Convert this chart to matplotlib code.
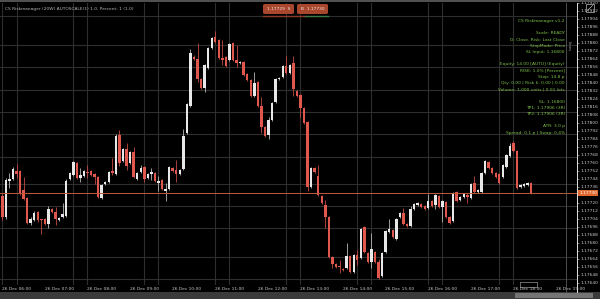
import numpy as np
import pandas as pd
import matplotlib.pyplot as plt
from matplotlib.patches import Rectangle, FancyBboxPatch
from matplotlib.lines import Line2D
import matplotlib.transforms as mtransforms

# EURUSD 5 minutos, 26 Dec 05:40 -> 18:05
opens = [1.17727, 1.17706, 1.17742, 1.17744, 1.17752, 1.17752, 1.17733, 1.17725, 1.17700, 1.17703,
         1.17711, 1.17704, 1.17704, 1.17699, 1.17714, 1.17711, 1.17703, 1.17706, 1.17707, 1.17744,
         1.17748, 1.17760, 1.17745, 1.17747, 1.17751, 1.17752, 1.17749, 1.17746, 1.17725, 1.17739,
         1.17741, 1.17752, 1.17749, 1.17788, 1.17762, 1.17774, 1.17760, 1.17771, 1.17744, 1.17751,
         1.17756, 1.17745, 1.17749, 1.17750, 1.17740, 1.17743, 1.17732, 1.17734, 1.17755, 1.17753,
         1.17749, 1.17754, 1.17790, 1.17817, 1.17866, 1.17864, 1.17844, 1.17835, 1.17855, 1.17875,
         1.17886, 1.17883, 1.17865, 1.17866, 1.17863, 1.17880, 1.17863, 1.17860, 1.17861, 1.17849,
         1.17843, 1.17827, 1.17841, 1.17817, 1.17796, 1.17788, 1.17803, 1.17821, 1.17844, 1.17846,
         1.17857, 1.17850, 1.17860, 1.17832, 1.17828, 1.17815, 1.17801, 1.17736, 1.17755, 1.17747,
         1.17727, 1.17718, 1.17706, 1.17666, 1.17659, 1.17657, 1.17654, 1.17655, 1.17667, 1.17651,
         1.17668, 1.17665, 1.17696, 1.17670, 1.17661, 1.17671, 1.17661, 1.17647, 1.17671, 1.17691,
         1.17693, 1.17684, 1.17706, 1.17710, 1.17699, 1.17697, 1.17714, 1.17718, 1.17719, 1.17717,
         1.17715, 1.17722, 1.17718, 1.17727, 1.17716, 1.17721, 1.17706, 1.17702, 1.17731, 1.17723,
         1.17726, 1.17728, 1.17725, 1.17740, 1.17731, 1.17731, 1.17750, 1.17761, 1.17755, 1.17750,
         1.17749, 1.17746, 1.17756, 1.17767, 1.17780, 1.17772, 1.17736, 1.17737, 1.17738, 1.17740]
highs = [1.17729, 1.17745, 1.17750, 1.17756, 1.17759, 1.17753, 1.17746, 1.17726, 1.17706, 1.17712,
         1.17712, 1.17704, 1.17705, 1.17717, 1.17715, 1.17716, 1.17706, 1.17720, 1.17744, 1.17751,
         1.17762, 1.17761, 1.17755, 1.17753, 1.17758, 1.17753, 1.17750, 1.17747, 1.17739, 1.17742,
         1.17752, 1.17765, 1.17789, 1.17793, 1.17775, 1.17780, 1.17772, 1.17776, 1.17751, 1.17758,
         1.17757, 1.17750, 1.17755, 1.17751, 1.17747, 1.17744, 1.17740, 1.17757, 1.17756, 1.17763,
         1.17754, 1.17794, 1.17820, 1.17874, 1.17868, 1.17880, 1.17845, 1.17859, 1.17876, 1.17886,
         1.17892, 1.17884, 1.17883, 1.17867, 1.17880, 1.17881, 1.17878, 1.17862, 1.17862, 1.17850,
         1.17844, 1.17851, 1.17842, 1.17826, 1.17797, 1.17806, 1.17821, 1.17845, 1.17846, 1.17858,
         1.17867, 1.17859, 1.17867, 1.17833, 1.17829, 1.17816, 1.17802, 1.17756, 1.17756, 1.17758,
         1.17728, 1.17723, 1.17707, 1.17667, 1.17660, 1.17663, 1.17655, 1.17680, 1.17668, 1.17669,
         1.17673, 1.17695, 1.17697, 1.17671, 1.17690, 1.17672, 1.17664, 1.17671, 1.17693, 1.17704,
         1.17694, 1.17705, 1.17711, 1.17715, 1.17700, 1.17717, 1.17720, 1.17721, 1.17720, 1.17718,
         1.17729, 1.17723, 1.17729, 1.17728, 1.17723, 1.17722, 1.17707, 1.17731, 1.17732, 1.17727,
         1.17730, 1.17730, 1.17740, 1.17747, 1.17734, 1.17751, 1.17763, 1.17762, 1.17756, 1.17751,
         1.17750, 1.17759, 1.17769, 1.17780, 1.17782, 1.17773, 1.17739, 1.17740, 1.17741, 1.17741]
lows = [1.17703, 1.17704, 1.17735, 1.17743, 1.17745, 1.17728, 1.17723, 1.17699, 1.17698, 1.17702,
        1.17701, 1.17689, 1.17698, 1.17695, 1.17710, 1.17698, 1.17702, 1.17705, 1.17706, 1.17743,
        1.17747, 1.17744, 1.17741, 1.17746, 1.17745, 1.17747, 1.17739, 1.17725, 1.17724, 1.17738,
        1.17740, 1.17748, 1.17748, 1.17757, 1.17761, 1.17753, 1.17759, 1.17745, 1.17743, 1.17750,
        1.17741, 1.17744, 1.17743, 1.17741, 1.17732, 1.17733, 1.17722, 1.17733, 1.17751, 1.17741,
        1.17748, 1.17753, 1.17789, 1.17816, 1.17863, 1.17841, 1.17834, 1.17831, 1.17854, 1.17874,
        1.17880, 1.17864, 1.17858, 1.17856, 1.17862, 1.17862, 1.17856, 1.17859, 1.17847, 1.17842,
        1.17826, 1.17826, 1.17816, 1.17790, 1.17786, 1.17784, 1.17802, 1.17820, 1.17843, 1.17845,
        1.17849, 1.17849, 1.17827, 1.17826, 1.17806, 1.17799, 1.17732, 1.17735, 1.17750, 1.17727,
        1.17719, 1.17695, 1.17665, 1.17655, 1.17655, 1.17650, 1.17652, 1.17654, 1.17650, 1.17650,
        1.17658, 1.17664, 1.17670, 1.17660, 1.17655, 1.17660, 1.17644, 1.17646, 1.17670, 1.17690,
        1.17685, 1.17683, 1.17705, 1.17698, 1.17696, 1.17696, 1.17713, 1.17717, 1.17715, 1.17713,
        1.17714, 1.17716, 1.17714, 1.17715, 1.17701, 1.17705, 1.17699, 1.17701, 1.17721, 1.17722,
        1.17725, 1.17720, 1.17724, 1.17730, 1.17730, 1.17730, 1.17749, 1.17754, 1.17749, 1.17745,
        1.17739, 1.17745, 1.17755, 1.17766, 1.17771, 1.17734, 1.17735, 1.17736, 1.17737, 1.17729]
closes = [1.17706, 1.17743, 1.17744, 1.17754, 1.17749, 1.17730, 1.17724, 1.17700, 1.17704, 1.17710,
          1.17703, 1.17703, 1.17699, 1.17714, 1.17711, 1.17704, 1.17705, 1.17709, 1.17742, 1.17750,
          1.17761, 1.17745, 1.17748, 1.17752, 1.17750, 1.17748, 1.17746, 1.17726, 1.17738, 1.17741,
          1.17751, 1.17750, 1.17787, 1.17760, 1.17774, 1.17757, 1.17771, 1.17746, 1.17750, 1.17755,
          1.17744, 1.17749, 1.17751, 1.17742, 1.17742, 1.17734, 1.17734, 1.17756, 1.17752, 1.17749,
          1.17753, 1.17787, 1.17819, 1.17870, 1.17864, 1.17844, 1.17835, 1.17858, 1.17875, 1.17885,
          1.17881, 1.17865, 1.17863, 1.17857, 1.17879, 1.17863, 1.17860, 1.17861, 1.17848, 1.17843,
          1.17827, 1.17840, 1.17817, 1.17796, 1.17787, 1.17803, 1.17820, 1.17844, 1.17845, 1.17857,
          1.17850, 1.17858, 1.17834, 1.17827, 1.17815, 1.17800, 1.17736, 1.17755, 1.17751, 1.17728,
          1.17720, 1.17706, 1.17666, 1.17659, 1.17656, 1.17656, 1.17653, 1.17667, 1.17651, 1.17668,
          1.17663, 1.17694, 1.17671, 1.17661, 1.17674, 1.17661, 1.17645, 1.17670, 1.17692, 1.17694,
          1.17686, 1.17704, 1.17710, 1.17699, 1.17697, 1.17714, 1.17719, 1.17720, 1.17716, 1.17714,
          1.17722, 1.17717, 1.17728, 1.17716, 1.17722, 1.17706, 1.17700, 1.17730, 1.17722, 1.17726,
          1.17729, 1.17726, 1.17739, 1.17731, 1.17733, 1.17750, 1.17762, 1.17755, 1.17750, 1.17746,
          1.17740, 1.17758, 1.17768, 1.17777, 1.17772, 1.17735, 1.17738, 1.17739, 1.17740, 1.17730]

inicio = '2025-12-26 05:40'
horas = ['26 Dec 06:00', '26 Dec 07:00', '26 Dec 08:00', '26 Dec 09:00', '26 Dec 10:00',
         '26 Dec 11:00', '26 Dec 12:00', '26 Dec 13:00', '26 Dec 14:00', '26 Dec 15:00',
         '26 Dec 16:00', '26 Dec 17:00', '26 Dec 18:00', '26 Dec 19:00']

titulo = 'CS Riskmanager (20W) AUTOSCALE(1) 1.0, Percent: 1 (1.0)'
panel = ['CS Riskmanager v1.2', '', 'Scale: READY', 'D: Close. Risk: Last Close',
         'StopMode: Price', 'SL Input: 1.16800', '', 'Equity: 14.00 [AUTO] (Equity)',
         'RISK: 1.0% [Percent]', 'Stop: 14.8 p', 'Qty: 0.00 | Risk $: 0.00 | 0.00',
         'Volume: 1,000 units | 0.01 lots', '', 'SL: 1.16800', 'TP1: 1.17906 (3R)',
         'TP2: 1.17906 (3R)', '', 'ATR: 3.0 p', 'Spread: 0.1 p | Swap: 0.4%']
precio_venta = '1.17729'
precio_compra = '1.17730'

# niveles de la cuadricula horizontal
niveles = [1.17907, 1.17878, 1.17856, 1.17833, 1.17811, 1.17789, 1.17766,
           1.17739, 1.17717, 1.17695, 1.17666, 1.17644]

df = pd.DataFrame({'open': opens, 'high': highs, 'low': lows, 'close': closes})
df.index = pd.date_range(inicio, periods=len(df), freq='5min')
n = len(df)
x = np.arange(n)

W, H = 600, 299
fig = plt.figure(figsize=(6, 2.99), dpi=100, facecolor='black')

def fx(px):
    return px / W

def fy(py):
    return 1 - py / H

ax = fig.add_axes([0, fy(285), fx(577), fy(3) - fy(285)])
ax.set_facecolor('black')

# cuadricula vertical: pares cada 20 velas
for i in range(0, 150, 20):
    ax.axvline(i, color='#2e2e2e', lw=0.8, zorder=0)
    ax.axvline(i + 4, color='#2e2e2e', lw=0.8, zorder=0)
for nv in niveles:
    ax.axhline(nv, color='#2e2e2e', lw=0.8, zorder=0)

sube = df['close'] >= df['open']
col_cuerpo = np.where(sube, '#e8e8e8', '#e0574e')
col_mecha = np.where(sube, '#b8b8b8', '#c44a42')
bajo = np.minimum(df['open'], df['close'])
alto = np.maximum(np.abs(df['close'] - df['open']), 0.000012)

ax.vlines(x, df['low'], df['high'], colors=col_mecha, lw=0.6, zorder=2)
ax.bar(x, alto, bottom=bajo, width=0.68, color=col_cuerpo, linewidth=0, zorder=3)

ultimo = df['close'].iloc[-1]
ax.axhline(ultimo, color='#bb5a3c', lw=0.7, zorder=4)

ax.set_xlim(-0.65, 161.9)
ax.set_ylim(1.17638, 1.17920)

for s in ax.spines.values():
    s.set_visible(False)

ax.yaxis.tick_right()
ax.set_yticks(np.arange(1.17640, 1.17921, 0.00008))
ax.set_yticklabels(['%.5f' % v for v in np.arange(1.17640, 1.17921, 0.00008)])
ax.tick_params(axis='y', colors='#c8c8c8', labelsize=3.2, length=1.5, width=0.4, pad=0.8)

ax.set_xticks(np.arange(4, 161, 12))
ax.set_xticklabels(horas)
ax.tick_params(axis='x', colors='#c8c8c8', labelsize=3.2, length=0, pad=1.6)

# etiqueta de precio actual
trans = mtransforms.blended_transform_factory(ax.transAxes, ax.transData)
ax.text(1.004, ultimo, '%.5f' % ultimo, transform=trans, fontsize=3.2, color='white',
        va='center', ha='left', clip_on=False, zorder=10,
        bbox=dict(boxstyle='square,pad=0.25', fc='#e0682f', ec='none'))

# barras superior e inferior
fig.add_artist(Rectangle((0, fy(2)), 1, 2 / H, transform=fig.transFigure, fc='#505050', ec='none'))
fig.add_artist(Rectangle((0, 0), 1, 7 / H, transform=fig.transFigure, fc='#3a3a3a', ec='none'))
fig.add_artist(Rectangle((fx(515), fy(298)), fx(78), 5 / H, transform=fig.transFigure,
                         fc='#747474', ec='none'))

# separadores verticales
fig.add_artist(Line2D([fx(566), fx(566)], [fy(3), fy(292)], transform=fig.transFigure,
                      color='#5a5a5a', lw=0.6))
fig.add_artist(Line2D([fx(577), fx(577)], [fy(3), fy(292)], transform=fig.transFigure,
                      color='#e0e0e0', lw=0.7))
fig.text(fx(569), fy(46), 'Lines', rotation=270, fontsize=2.8, color='#aaaaaa',
         ha='center', va='center')

# marca de tiempo actual
fig.add_artist(Rectangle((fx(520), fy(287)), fx(17), 5 / H, transform=fig.transFigure,
                         fc='none', ec='#bbbbbb', lw=0.4))

# titulo
fig.text(fx(5), fy(9), titulo, fontsize=3.2, color='#b4b4b4', ha='left', va='center')

# botones de venta / compra
for x0, txt in [(263, precio_venta + '  S'), (297, 'B  ' + precio_compra)]:
    fig.add_artist(FancyBboxPatch((fx(x0), fy(14)), fx(31), 10 / H,
                                  boxstyle='round,pad=0,rounding_size=0.004',
                                  transform=fig.transFigure, fc='#a8472e', ec='none'))
    fig.text(fx(x0 + 15.5), fy(9), txt, fontsize=3.2, color='#f4e4dc', ha='center', va='center')
fig.add_artist(Line2D([fx(263), fx(305)], [fy(16), fy(16)], transform=fig.transFigure,
                      color='#8c3a28', lw=1.0))
fig.add_artist(Line2D([fx(305), fx(328)], [fy(16), fy(16)], transform=fig.transFigure,
                      color='#3b7a44', lw=1.0))

# icono arriba a la derecha
fig.add_artist(Rectangle((fx(586), fy(12)), fx(8), 8 / H, transform=fig.transFigure,
                         fc='none', ec='#bbbbbb', lw=0.5))
fig.add_artist(Line2D([fx(587.5), fx(592.5)], [fy(10.5), fy(5.5)], transform=fig.transFigure,
                      color='#bbbbbb', lw=0.5))

# panel de texto verde
yy = 21
for linea in panel:
    if linea:
        fig.text(fx(565), fy(yy), linea, fontsize=3.2, color='#7cbf48', ha='right', va='center')
    yy += 6.2

fig.savefig('out.png', dpi=100, facecolor='black')
